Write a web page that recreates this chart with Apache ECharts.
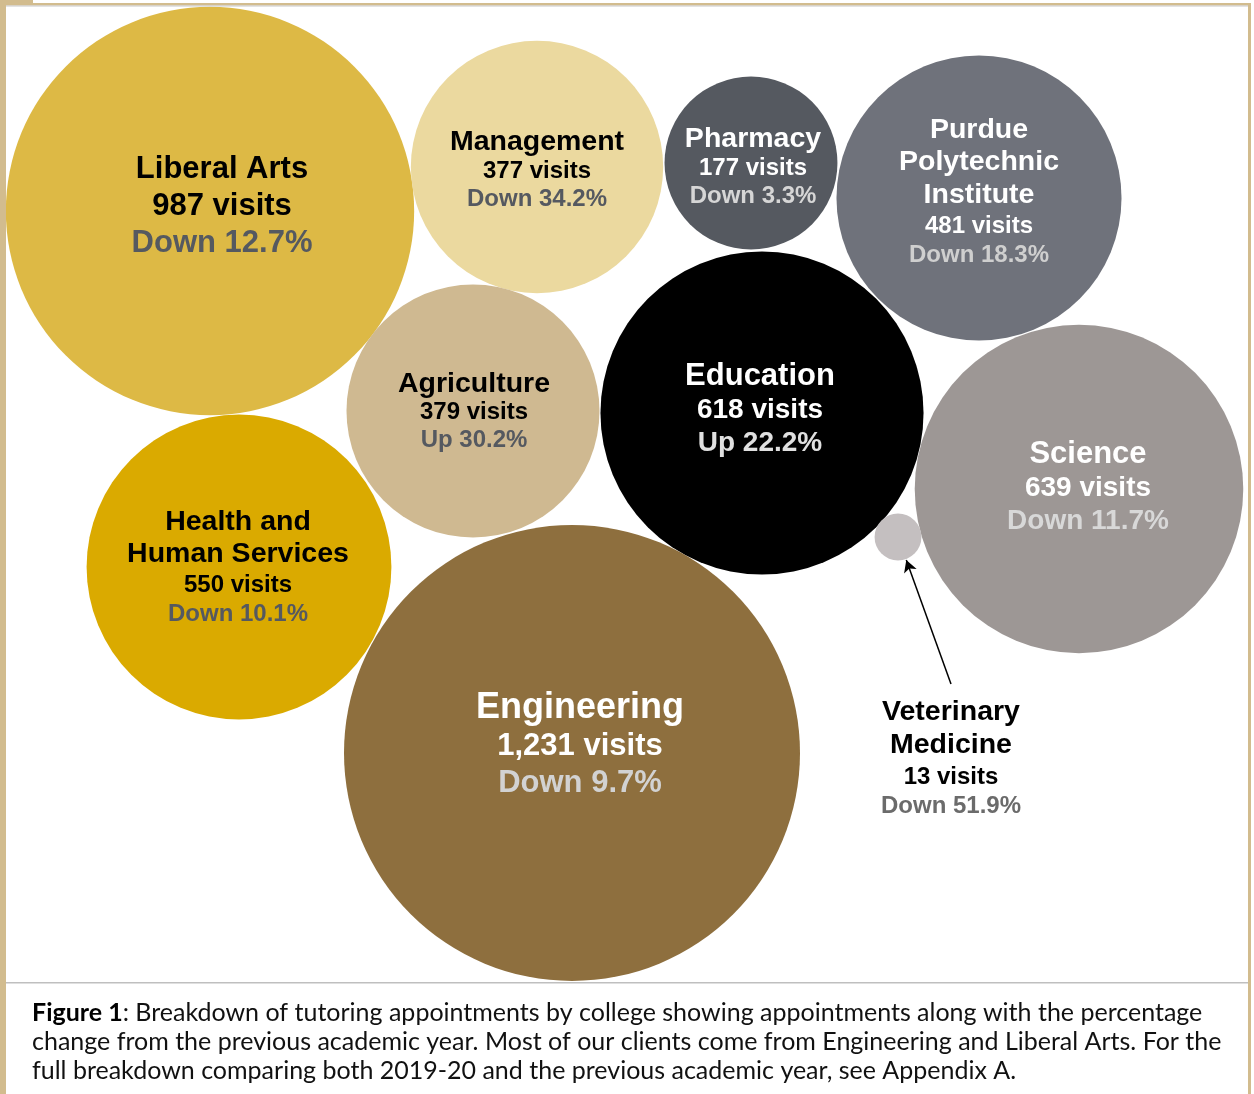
<!DOCTYPE html>
<html>
<head>
<meta charset="utf-8">
<script src="https://cdn.jsdelivr.net/npm/echarts@6/dist/echarts.min.js"></script>
<style>
  html, body { margin: 0; padding: 0; background: #ffffff; }
  #chart { width: 1254px; height: 1094px; }
</style>
</head>
<body>
<div id="chart"></div>
<script>
// ---- data ----
const colleges = ['Liberal Arts', 'Management', 'Pharmacy', 'Purdue\nPolytechnic\nInstitute', 'Agriculture',
                  'Education', 'Science', 'Health and\nHuman Services', 'Engineering', 'Veterinary\nMedicine'];
const visits = [987, 377, 177, 481, 379, 618, 639, 550, 1231, 13];
const changePct = [-12.7, -34.2, -3.3, -18.3, 30.2, 22.2, -11.7, -10.1, -9.7, -51.9];
// bubble-pack centre positions (layout space, same units as the canvas)
const packX = [210, 537, 751, 979, 473, 762, 1079, 239, 572, 898];
const packY = [211, 167, 163, 198, 411, 413, 489, 567, 753, 537];

const captionLines = [
  ': Breakdown of tutoring appointments by college showing appointments along with the percentage',
  'change from the previous academic year. Most of our clients come from Engineering and Liberal Arts. For the',
  'full breakdown comparing both 2019-20 and the previous academic year, see Appendix A.'
];

// ---- styles ----
const MAX_R = 228; // radius (px) of the largest bubble; area proportional to visits
const maxVisits = Math.max(...visits);
const styles = [
  { fill: '#DDB945', tc: '#000', vc: '#000', cc: '#555960', ts: 31, tl: 37, vs: 31, vl: 37, cs: 31, cl: 37, off: [12, -5] },
  { fill: '#EBD99F', tc: '#000', vc: '#000', cc: '#555960', ts: 28.5, tl: 30, vs: 24, vl: 28, cs: 24, cl: 27, off: [0, 3] },
  { fill: '#555960', tc: '#fff', vc: '#fff', cc: '#D6D6D6', ts: 28.5, tl: 30, vs: 24, vl: 28, cs: 24, cl: 27, off: [2, 4] },
  { fill: '#6F727B', tc: '#fff', vc: '#fff', cc: '#CFCFCF', ts: 28.5, tl: 32.5, vs: 24, vl: 30, cs: 24, cl: 29, off: [0, -6] },
  { fill: '#CFB991', tc: '#000', vc: '#000', cc: '#555960', ts: 28.5, tl: 29, vs: 24, vl: 28.5, cs: 24, cl: 28, off: [1, 1] },
  { fill: '#000000', tc: '#fff', vc: '#fff', cc: '#E0E0E0', ts: 31, tl: 34, vs: 28, vl: 33.5, cs: 28, cl: 33, off: [-2, -3] },
  { fill: '#9D9795', tc: '#fff', vc: '#fff', cc: '#D8D8D8', ts: 31, tl: 34, vs: 28, vl: 33.5, cs: 28, cl: 33, off: [9, -1] },
  { fill: '#DAAA00', tc: '#000', vc: '#000', cc: '#555960', ts: 28.5, tl: 32, vs: 24, vl: 30, cs: 24, cl: 27, off: [-1, 0] },
  { fill: '#8E6F3E', tc: '#fff', vc: '#fff', cc: '#D2D2D2', ts: 36, tl: 39, vs: 31, vl: 37.5, cs: 31, cl: 36, off: [8, -8] },
  { fill: '#C4BFC0', tc: '#000', vc: '#000', cc: '#6B6B6B', ts: 28.5, tl: 33, vs: 24, vl: 30, cs: 24, cl: 28, off: [53, 221] }
];
const FONT = '"Liberation Sans", Arial, Helvetica, sans-serif';
const CAPTION_FONT = 'Lato, "Noto Sans", sans-serif';

function radiusOf(v) { return MAX_R * Math.sqrt(v / maxVisits); }
function fmtVisits(v) { return v.toLocaleString('en-US') + ' visits'; }
function fmtChange(c) { return (c < 0 ? 'Down ' : 'Up ') + Math.abs(c).toFixed(1) + '%'; }

const seriesData = colleges.map((name, i) => {
  const s = styles[i];
  return {
    name: name,
    value: [packX[i], packY[i], visits[i]],
    symbolSize: 2 * radiusOf(visits[i]),
    itemStyle: { color: s.fill, opacity: 1 },
    label: {
      show: true,
      position: 'inside',
      offset: s.off,
      align: 'center',
      verticalAlign: 'middle',
      fontFamily: FONT,
      fontWeight: 'bold',
      opacity: 1,
      formatter: '{t|' + name + '}\n{v|' + fmtVisits(visits[i]) + '}\n{c|' + fmtChange(changePct[i]) + '}',
      rich: {
        t: { fontFamily: FONT, fontWeight: 'bold', fontSize: s.ts, lineHeight: s.tl, color: s.tc, align: 'center' },
        v: { fontFamily: FONT, fontWeight: 'bold', fontSize: s.vs, lineHeight: s.vl, color: s.vc, align: 'center' },
        c: { fontFamily: FONT, fontWeight: 'bold', fontSize: s.cs, lineHeight: s.cl, color: s.cc, align: 'center' }
      }
    }
  };
});

// arrow from the Veterinary Medicine label to its bubble
const vi = colleges.length - 1;
const arrowStart = [packX[vi] + 53, packY[vi] + 147];
const dx = packX[vi] - arrowStart[0], dy = packY[vi] - arrowStart[1];
const dl = Math.sqrt(dx * dx + dy * dy);
const rv = radiusOf(visits[vi]) + 1;
const arrowEnd = [packX[vi] - dx / dl * rv, packY[vi] - dy / dl * rv];

const TAN = '#D2BC8E';
const chart = echarts.init(document.getElementById('chart'), null, { renderer: 'canvas' });
chart.setOption({
  animation: false,
  backgroundColor: '#ffffff',
  grid: { left: 0, right: 0, top: 0, bottom: 0 },
  xAxis: { type: 'value', min: 0, max: 1254, show: false },
  yAxis: { type: 'value', min: 0, max: 1094, inverse: true, show: false },
  title: {
    left: 27, top: 993,
    text: '{b|Figure 1}' + captionLines[0] + '\n' + captionLines[1] + '\n' + captionLines[2],
    textStyle: {
      fontFamily: CAPTION_FONT, fontSize: 25, fontWeight: 'normal', color: '#111', lineHeight: 29,
      rich: { b: { fontFamily: CAPTION_FONT, fontSize: 25, fontWeight: 'bold', color: '#000', lineHeight: 29 } }
    }
  },
  graphic: [
    { type: 'rect', shape: { x: 0, y: 0, width: 6, height: 1094 }, style: { fill: TAN }, z: 10 },
    { type: 'rect', shape: { x: 0, y: 0, width: 33, height: 3 }, style: { fill: TAN }, z: 10 },
    { type: 'rect', shape: { x: 0, y: 3, width: 1251, height: 2.5 }, style: { fill: TAN }, z: 10 },
    { type: 'rect', shape: { x: 6, y: 5.5, width: 1242, height: 1 }, style: { fill: '#C8C8C8' }, z: 10 },
    { type: 'rect', shape: { x: 1248, y: 3, width: 3, height: 1091 }, style: { fill: TAN }, z: 10 },
    { type: 'rect', shape: { x: 6, y: 982, width: 1242, height: 1.5 }, style: { fill: '#BFBFBF' }, z: 10 }
  ],
  series: [{
    type: 'scatter',
    symbol: 'circle',
    data: seriesData,
    emphasis: { disabled: true },
    markLine: {
      silent: true,
      symbol: ['none', 'arrow'],
      symbolSize: [10, 12],
      label: { show: false },
      lineStyle: { color: '#000', width: 1.5, type: 'solid', opacity: 1 },
      data: [[{ coord: arrowStart }, { coord: arrowEnd }]]
    }
  }]
});
</script>
</body>
</html>
